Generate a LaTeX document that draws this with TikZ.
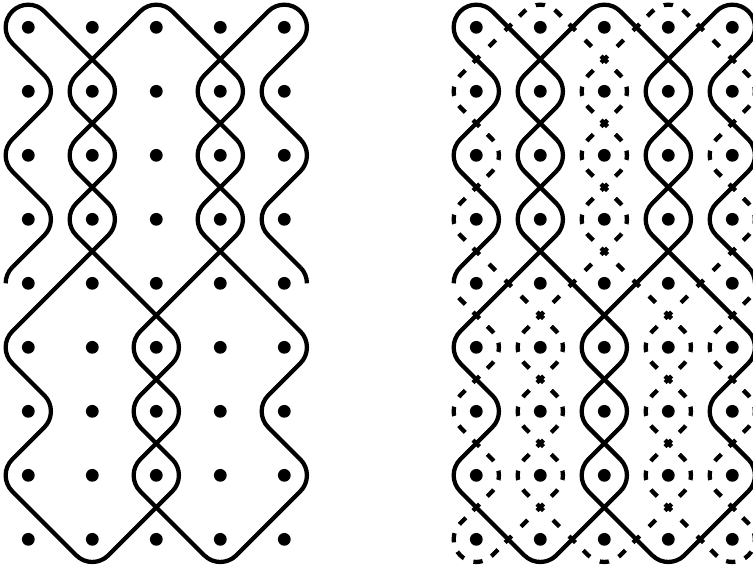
\documentclass[tikz,border=0pt]{standalone}
\begin{document}
\begin{tikzpicture}[x=1cm,y=1cm,
  lw/.style={line width=1.9pt},
  solidk/.style={lw, rounded corners=0.35355cm},
  dk/.style={lw, rounded corners=0.35355cm, dash phase=0.0725cm},
  dzero/.style={dk, dash pattern=on 0.145cm off 0.20855cm},
  done/.style={dk, dash pattern=on 0.145cm off 0.17062cm},
  dtwo/.style={dk, dash pattern=on 0.145cm off 0.15797cm},
  dend/.style={lw, dash phase=0.0725cm, dash pattern=on 0.145cm off 0.17062cm}]
\useasboundingbox (-0.442,0.427) rectangle (11.323,-8.448);
\clip (-0.442,0.427) rectangle (11.323,-8.448);
% dots
\foreach \i in {0,...,4}{
  \foreach \j in {0,...,8}{
    \fill (\i,-\j) circle (0.1);
    \fill (\i+7,-\j) circle (0.1);
  }
}
% solid curve, both panels
\foreach \sx in {0,7}{
\begin{scope}[xshift=\sx cm]
  \draw[lw] (-0.35355,-4) arc[start angle=180,end angle=135,radius=0.35355];
  \draw[solidk] (-0.25,-3.75) -- (0.5,-3) -- (-0.5,-2) -- (0.5,-1) -- (-0.5,0) -- (0,0.5)
    -- (1.5,-1) -- (0.5,-2) -- (1.5,-3) -- (-0.5,-5) -- (0.5,-6) -- (-0.5,-7) -- (1,-8.5)
    -- (2.5,-7) -- (1.5,-6) -- (2.5,-5) -- (0.5,-3) -- (1.5,-2) -- (0.5,-1) -- (2,0.5)
    -- (3.5,-1) -- (2.5,-2) -- (3.5,-3) -- (1.5,-5) -- (2.5,-6) -- (1.5,-7) -- (3,-8.5)
    -- (4.5,-7) -- (3.5,-6) -- (4.5,-5) -- (2.5,-3) -- (3.5,-2) -- (2.5,-1) -- (4,0.5)
    -- (4.5,0) -- (3.5,-1) -- (4.5,-2) -- (3.5,-3) -- (4.25,-3.75);
  \draw[lw] (4.35355,-4) arc[start angle=0,end angle=45,radius=0.35355];
\end{scope}
}
% dashed curve, right panel
\begin{scope}[xshift=7cm]
  \draw[dzero] (0.5,-8) -- (1,-7.5)  (1,-4.5) -- (0.5,-4)  (0.5,-4) -- (0,-3.5)
    (0,-0.5) -- (0.5,0)  (1.5,0) -- (2,-0.5)  (2,-3.5) -- (1.5,-4)  (1.5,-4) -- (1,-4.5)
    (1,-7.5) -- (1.5,-8)  (2.5,-8) -- (3,-7.5)  (3,-4.5) -- (2.5,-4)  (2.5,-4) -- (2,-3.5)
    (2,-0.5) -- (2.5,0)  (3.5,0) -- (4,-0.5)  (4,-3.5) -- (3.5,-4)  (3.5,-4) -- (3,-4.5)
    (3,-7.5) -- (3.5,-8);
  \draw[done]
    (0,-4.5) -- (0.5,-5) -- (0,-5.5)
    (0,-5.5) -- (-0.5,-6) -- (0,-6.5)
    (0,-6.5) -- (0.5,-7) -- (0,-7.5)
    (1,-7.5) -- (1.5,-7) -- (1,-6.5)
    (1,-6.5) -- (0.5,-6) -- (1,-5.5)
    (1,-5.5) -- (1.5,-5) -- (1,-4.5)
    (0,-3.5) -- (-0.5,-3) -- (0,-2.5)
    (0,-2.5) -- (0.5,-2) -- (0,-1.5)
    (0,-1.5) -- (-0.5,-1) -- (0,-0.5)
    (0.5,0) -- (1,0.5) -- (1.5,0)
    (2,-0.5) -- (2.5,-1) -- (2,-1.5)
    (2,-1.5) -- (1.5,-2) -- (2,-2.5)
    (2,-2.5) -- (2.5,-3) -- (2,-3.5)
    (1,-4.5) -- (0.5,-5) -- (1,-5.5)
    (1,-5.5) -- (1.5,-6) -- (1,-6.5)
    (1,-6.5) -- (0.5,-7) -- (1,-7.5)
    (1.5,-8) -- (2,-8.5) -- (2.5,-8)
    (3,-7.5) -- (3.5,-7) -- (3,-6.5)
    (3,-6.5) -- (2.5,-6) -- (3,-5.5)
    (3,-5.5) -- (3.5,-5) -- (3,-4.5)
    (2,-3.5) -- (1.5,-3) -- (2,-2.5)
    (2,-2.5) -- (2.5,-2) -- (2,-1.5)
    (2,-1.5) -- (1.5,-1) -- (2,-0.5)
    (2.5,0) -- (3,0.5) -- (3.5,0)
    (4,-0.5) -- (4.5,-1) -- (4,-1.5)
    (4,-1.5) -- (3.5,-2) -- (4,-2.5)
    (4,-2.5) -- (4.5,-3) -- (4,-3.5)
    (3,-4.5) -- (2.5,-5) -- (3,-5.5)
    (3,-5.5) -- (3.5,-6) -- (3,-6.5)
    (3,-6.5) -- (2.5,-7) -- (3,-7.5)
    (4,-7.5) -- (3.5,-7) -- (4,-6.5)
    (4,-6.5) -- (4.5,-6) -- (4,-5.5)
    (4,-5.5) -- (3.5,-5) -- (4,-4.5);
  \draw[dtwo] (0,-7.5) -- (-0.5,-8) -- (0,-8.5) -- (0.5,-8)
    (3.5,-8) -- (4,-8.5) -- (4.5,-8) -- (4,-7.5);
  \draw[dend] (0,-4.5) -- (-0.25,-4.25) arc[start angle=225,end angle=217,radius=0.35355];
  \draw[dend] (4,-4.5) -- (4.25,-4.25) arc[start angle=-45,end angle=-37,radius=0.35355];
\end{scope}
\end{tikzpicture}
\end{document}
